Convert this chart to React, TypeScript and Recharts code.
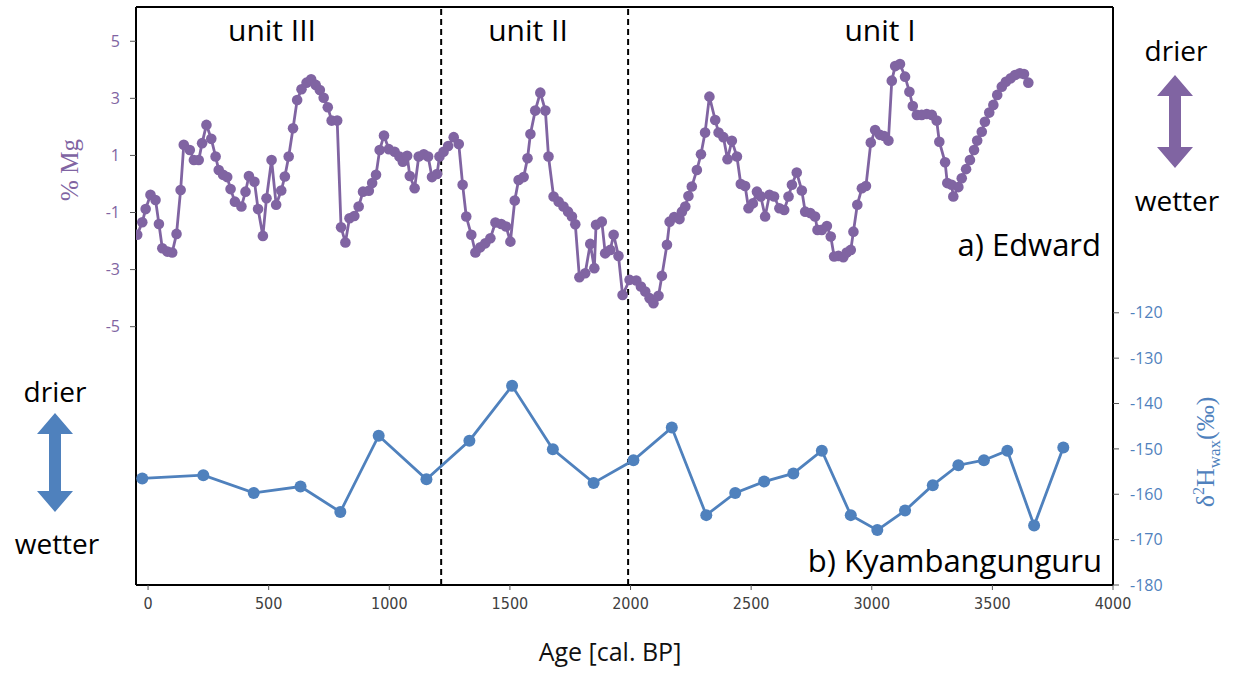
import React from "react";
import {
  ComposedChart,
  Line,
  XAxis,
  YAxis,
  ReferenceLine,
} from "recharts";

// Lake Edward %Mg record (age in cal. BP)
const mgAges = [
  -45, -24, -10, 10, 31, 45, 59, 80, 100, 118, 135, 148, 173, 190, 210, 224, 242, 262, 280, 293,
  311, 328, 342, 360, 387, 404, 418, 441, 456, 476, 491, 512, 531, 552, 567, 583, 601, 618, 636, 657,
  676, 695, 712, 728, 745, 761, 784, 800, 818, 835, 855, 873, 891, 915, 929, 945, 960, 978, 998, 1022,
  1042, 1056, 1074, 1085, 1105, 1122, 1143, 1161, 1177, 1198, 1208, 1225, 1244, 1267, 1288, 1304, 1319, 1340, 1357, 1377,
  1398, 1419, 1440, 1464, 1484, 1502, 1520, 1536, 1557, 1573, 1585, 1605, 1626, 1647, 1660, 1681, 1702, 1722, 1741, 1757,
  1771, 1788, 1812, 1833, 1850, 1857, 1881, 1895, 1916, 1930, 1950, 1967, 1996, 2024, 2043, 2061, 2079, 2095, 2116, 2130,
  2151, 2162, 2181, 2203, 2213, 2227, 2240, 2254, 2275, 2292, 2309, 2327, 2351, 2365, 2385, 2402, 2420, 2441, 2457, 2475,
  2489, 2507, 2524, 2540, 2558, 2576, 2595, 2617, 2637, 2655, 2669, 2689, 2710, 2724, 2745, 2765, 2775, 2793, 2814, 2830,
  2844, 2862, 2882, 2896, 2913, 2924, 2940, 2959, 2976, 2996, 3014, 3034, 3051, 3069, 3083, 3097, 3117, 3138, 3156, 3170,
  3187, 3207, 3228, 3249, 3269, 3280, 3304, 3313, 3331, 3338, 3359, 3373, 3391, 3407, 3424, 3437, 3456, 3469, 3487, 3504,
  3520, 3539, 3556, 3576, 3594, 3614, 3631, 3649,
];
const mgValues = [
  -1.78, -1.34, -0.88, -0.38, -0.56, -1.4, -2.25, -2.37, -2.4, -1.75, -0.21, 1.37, 1.19, 0.84, 0.84, 1.43, 2.07, 1.58, 0.96, 0.49,
  0.32, 0.24, -0.18, -0.62, -0.79, -0.27, 0.28, 0.08, -0.88, -1.82, -0.5, 0.84, -0.73, -0.23, 0.26, 0.96, 1.95, 2.94, 3.32, 3.55,
  3.67, 3.47, 3.29, 3.02, 2.69, 2.22, 2.22, -1.52, -2.05, -1.2, -1.12, -0.79, -0.27, -0.24, 0.03, 0.32, 1.19, 1.7, 1.22, 1.13,
  0.96, 0.78, 0.99, 0.28, -0.15, 0.96, 1.04, 0.96, 0.24, 0.35, 0.96, 1.13, 1.33, 1.64, 1.4, -0.03, -1.14, -1.78, -2.4, -2.22,
  -2.08, -1.9, -1.35, -1.4, -1.49, -2.02, -0.58, 0.14, 0.24, 0.9, 1.75, 2.57, 3.2, 2.57, 0.96, -0.44, -0.62, -0.79, -0.97, -1.14,
  -1.41, -3.27, -3.13, -2.1, -2.95, -1.43, -1.32, -2.43, -2.31, -1.78, -2.52, -3.89, -3.36, -3.38, -3.59, -3.77, -4.0, -4.18, -3.92, -3.22,
  -2.13, -1.32, -1.16, -1.23, -0.97, -0.79, -0.42, -0.09, 0.49, 1.04, 1.8, 3.06, 2.24, 1.8, 1.64, 0.87, 1.51, 0.96, 0.0, -0.07,
  -0.85, -0.68, -0.27, -0.44, -1.14, -0.38, -0.44, -0.85, -0.91, -0.44, -0.03, 0.4, -0.23, -0.97, -1.02, -1.14, -1.61, -1.61, -1.47, -1.84,
  -2.54, -2.52, -2.57, -2.4, -2.31, -1.67, -0.73, -0.15, -0.07, 1.45, 1.89, 1.72, 1.68, 1.52, 3.62, 4.13, 4.2, 3.76, 3.23, 2.73,
  2.42, 2.42, 2.45, 2.42, 2.22, 1.48, 0.76, 0.03, -0.03, -0.44, -0.11, 0.2, 0.52, 0.84, 1.19, 1.52, 1.83, 2.18, 2.5, 2.77,
  3.12, 3.41, 3.58, 3.7, 3.82, 3.88, 3.85, 3.55,
];

// Kyambangunguru leaf-wax dD record
const dhAges = [
  -24, 229, 438, 632, 797, 956, 1154, 1332, 1509, 1678, 1847, 2012, 2171, 2314, 2434, 2554, 2675, 2793, 2913, 3023,
  3138, 3253, 3359, 3465, 3562, 3673, 3794,
];
const dhValues = [
  -156.5, -155.8, -159.7, -158.3, -163.9, -147.1, -156.7, -148.2, -136.1, -150.1, -157.5, -152.5, -145.3, -164.6, -159.7, -157.2, -155.4, -150.4, -164.6, -167.9,
  -163.6, -158.0, -153.6, -152.5, -150.4, -166.9, -149.7,
];

const ageTicks = [0, 500, 1000, 1500, 2000, 2500, 3000, 3500, 4000];
const mgTicks = [-5, -3, -1, 1, 3, 5];
const dhTicks = [-180, -170, -160, -150, -140, -130, -120];
const unitBoundaries = [1215, 1990];

const mgData = mgAges.map((age, i) => ({ age, mg: mgValues[i] }));
const dhData = dhAges.map((age, i) => ({ age, dh: dhValues[i] }));

const PURPLE = "#8064a2";
const BLUE = "#4f81bd";
const LABEL_FONT = "'Open Sans', sans-serif";

const W = 1235;
const H = 674;

// vertical double-headed arrow
const arrowPath = (cx: number, top: number, bottom: number) => {
  const hw = 18, sw = 6, hh = 21;
  return `M${cx},${top} L${cx + hw},${top + hh} L${cx + sw},${top + hh} L${cx + sw},${bottom - hh} L${cx + hw},${bottom - hh} L${cx},${bottom} L${cx - hw},${bottom - hh} L${cx - sw},${bottom - hh} L${cx - sw},${top + hh} L${cx - hw},${top + hh} Z`;
};

export default function App() {
  return (
    <div style={{ position: "absolute", left: 0, top: 0, width: W, height: H, background: "#fff" }}>
      <ComposedChart width={W} height={H} margin={{ top: 7, right: 62, left: 76, bottom: 59 }}>
        <XAxis
          type="number"
          dataKey="age"
          domain={[-50, 4000]}
          ticks={ageTicks}
          allowDataOverflow
          height={30}
          axisLine={{ stroke: "#000", strokeWidth: 2 }}
          tickLine={{ stroke: "#555" }}
          tickSize={5}
          tickMargin={8}
          tick={{ fill: "#404040", fontSize: 16, fontFamily: "'Liberation Sans Narrow', 'DejaVu Sans Condensed', sans-serif" }}
        />
        <YAxis
          yAxisId="mg"
          type="number"
          domain={[-14.05, 6.2]}
          ticks={mgTicks}
          allowDataOverflow
          width={60}
          axisLine={{ stroke: "#000", strokeWidth: 2 }}
          tickLine={{ stroke: "#555" }}
          tickSize={6}
          tickMargin={10}
          tick={{ fill: PURPLE, fontSize: 16, fontFamily: LABEL_FONT }}
        />
        <YAxis
          yAxisId="dh"
          orientation="right"
          type="number"
          domain={[-180, -52.6]}
          ticks={dhTicks}
          allowDataOverflow
          width={60}
          axisLine={{ stroke: "#000", strokeWidth: 2 }}
          tickLine={{ stroke: "#555" }}
          tickSize={6}
          tickMargin={11}
          tick={{ fill: BLUE, fontSize: 16, fontFamily: LABEL_FONT, textAnchor: "start" }}
        />
        <ReferenceLine yAxisId="mg" y={6.2} stroke="#000" strokeWidth={2} />
        {unitBoundaries.map((x) => (
          <ReferenceLine key={x} yAxisId="mg" x={x} stroke="#000" strokeWidth={2} strokeDasharray="6 4" />
        ))}
        <Line
          yAxisId="mg"
          data={mgData}
          dataKey="mg"
          type="linear"
          stroke={PURPLE}
          strokeWidth={2.8}
          dot={{ r: 5.3, fill: PURPLE, stroke: PURPLE, strokeWidth: 0 }}
          isAnimationActive={false}
        />
        <Line
          yAxisId="dh"
          data={dhData}
          dataKey="dh"
          type="linear"
          stroke={BLUE}
          strokeWidth={2.8}
          dot={{ r: 6, fill: BLUE, stroke: BLUE, strokeWidth: 0 }}
          isAnimationActive={false}
        />
      </ComposedChart>

      <svg
        width={W}
        height={H}
        style={{ position: "absolute", left: 0, top: 0, pointerEvents: "none" }}
        fontFamily={LABEL_FONT}
      >
        <text x={272} y={41} fontSize={30} textAnchor="middle" fill="#000">unit III</text>
        <text x={528} y={41} fontSize={30} textAnchor="middle" fill="#000">unit II</text>
        <text x={880} y={41} fontSize={30} textAnchor="middle" fill="#000">unit I</text>
        <text x={1101} y={256} fontSize={31} textAnchor="end" fill="#000">a) Edward</text>
        <text x={1102} y={572} fontSize={31} textAnchor="end" fill="#000">b) Kyambangunguru</text>

        <text x={1176} y={61} fontSize={28} textAnchor="middle" fill="#000">drier</text>
        <path d={arrowPath(1175, 75, 168)} fill={PURPLE} />
        <text x={1177} y={211} fontSize={28} textAnchor="middle" fill="#000">wetter</text>

        <text x={55} y={402} fontSize={28} textAnchor="middle" fill="#000">drier</text>
        <path d={arrowPath(55, 413, 512)} fill={BLUE} />
        <text x={57} y={554} fontSize={28} textAnchor="middle" fill="#000">wetter</text>

        <text x={610} y={661} fontSize={25} textAnchor="middle" fill="#111">Age [cal. BP]</text>

        <text
          transform="translate(78,170) rotate(-90)"
          fontSize={25}
          textAnchor="middle"
          fill={PURPLE}
          fontFamily="'Liberation Serif', serif"
        >
          % Mg
        </text>
        <text
          transform="translate(1214,452) rotate(-90)"
          fontSize={26}
          textAnchor="middle"
          fill={BLUE}
          fontFamily="'Liberation Serif', serif"
        >
          δ<tspan fontSize={16} dy={-10}>2</tspan>
          <tspan dy={10}>H</tspan>
          <tspan fontSize={17} dy={6}>wax</tspan>
          <tspan dy={-6}>(‰)</tspan>
        </text>
      </svg>
    </div>
  );
}
